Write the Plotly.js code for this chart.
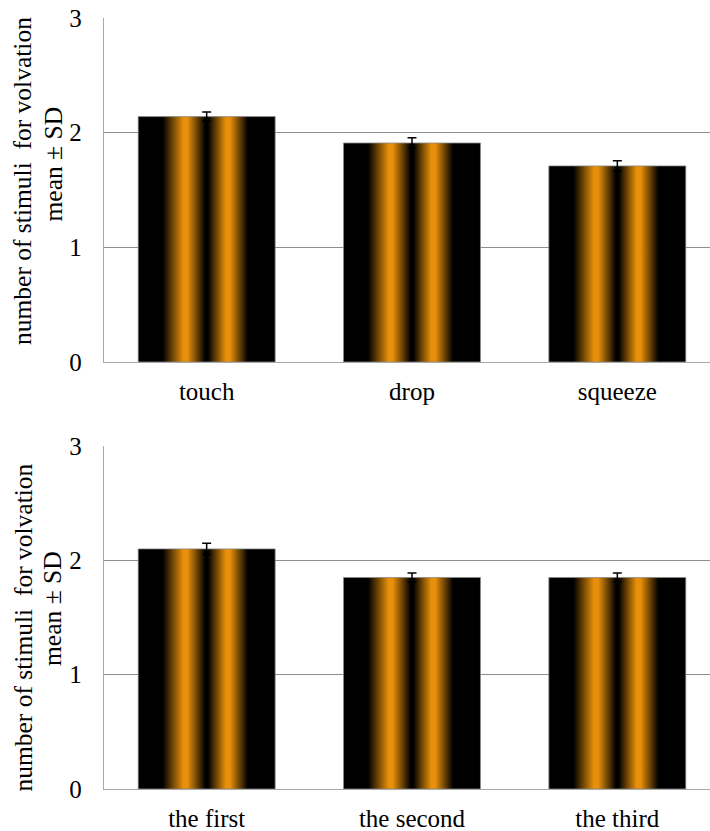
<!DOCTYPE html>
<html>
<head>
<meta charset="utf-8">
<script src="https://cdn.plot.ly/plotly-3.0.1.min.js"></script>
<style>
  html, body { margin: 0; padding: 0; background: #fff; overflow: hidden; }
  #chart { width: 730px; height: 831px; }
</style>
</head>
<body>
<div id="chart"></div>
<script>
// ---- data ----
const catsTop = ['touch', 'drop', 'squeeze'];
const meanTop = [2.14, 1.91, 1.71];
const sdTop = [0.04, 0.045, 0.045];

const catsBottom = ['the first', 'the second', 'the third'];
const meanBottom = [2.10, 1.85, 1.85];
const sdBottom = [0.05, 0.04, 0.04];

const yTicks = [0, 1, 2, 3];
const yTitleLine1 = 'number of stimuli\u00a0 for volvation';
const yTitleLine2 = 'mean \u00b1 SD';

const FONT = 'Liberation Serif, Times New Roman, serif';

function barTrace(x, y, sd, xa, ya) {
  return {
    type: 'bar', x: x, y: y, xaxis: xa, yaxis: ya,
    marker: { color: '#000000', line: { color: '#8a8a8a', width: 0.8 } },
    error_y: { type: 'data', array: sd, visible: true, color: '#000000', thickness: 1.5, width: 4.5 },
    hoverinfo: 'skip', showlegend: false
  };
}

const data = [
  barTrace(catsTop, meanTop, sdTop, 'x', 'y'),
  barTrace(catsBottom, meanBottom, sdBottom, 'x2', 'y2')
];

function yAxis(domain, anchor) {
  return {
    domain: domain, anchor: anchor, range: [0, 3], tickvals: yTicks, ticktext: yTicks.map(String),
    showgrid: true, gridcolor: '#8f8f8f', gridwidth: 1.3, zeroline: false,
    showline: true, linecolor: '#a8a8a8', linewidth: 1.3, ticks: '',
    ticklabelstandoff: 16,
    tickfont: { family: FONT, size: 25, color: '#000' },
    fixedrange: true
  };
}
function xAxis(anchor) {
  return {
    anchor: anchor, showline: true, linecolor: '#a8a8a8', linewidth: 1.3, ticks: '',
    showgrid: false, zeroline: false, ticklabelstandoff: 7,
    tickfont: { family: FONT, size: 25, color: '#000' }, fixedrange: true
  };
}

function titleAnn(text, x, y) {
  return {
    text: text, xref: 'paper', yref: 'paper', x: x, y: y,
    xanchor: 'center', yanchor: 'middle', textangle: -90, showarrow: false,
    font: { family: FONT, size: 25.5, color: '#000' }
  };
}

const layout = {
  width: 730, height: 831,
  margin: { l: 104, r: 10, t: 18, b: 42 },
  paper_bgcolor: '#ffffff', plot_bgcolor: '#ffffff',
  bargap: 0.333,
  font: { family: FONT, color: '#000' },
  xaxis: xAxis('y'),
  yaxis: yAxis([0.5538, 1], 'x'),
  xaxis2: xAxis('y2'),
  yaxis2: yAxis([0, 0.4449], 'x2'),
  annotations: [
    titleAnn(yTitleLine1, -0.1322, 0.788),
    titleAnn(yTitleLine2, -0.0828, 0.8113),
    titleAnn(yTitleLine1, -0.1322, 0.2088),
    titleAnn(yTitleLine2, -0.0828, 0.2348)
  ]
};

Plotly.newPlot('chart', data, layout, { staticPlot: true, displayModeBar: false }).then(function (gd) {
  const svg = gd.querySelector('svg.main-svg');
  const ns = 'http://www.w3.org/2000/svg';
  let defs = svg.querySelector('defs');
  if (!defs) { defs = document.createElementNS(ns, 'defs'); svg.insertBefore(defs, svg.firstChild); }
  const grad = document.createElementNS(ns, 'linearGradient');
  grad.setAttribute('id', 'barStripe');
  grad.setAttribute('x1', '0'); grad.setAttribute('y1', '0');
  grad.setAttribute('x2', '1'); grad.setAttribute('y2', '0');
  const stops = [
    [0, '#000000'], [0.18, '#000000'], [0.33, '#e8900a'], [0.36, '#e8900a'], [0.49, '#000000'],
    [0.51, '#000000'], [0.64, '#e8900a'], [0.67, '#e8900a'], [0.80, '#000000'], [1, '#000000']
  ];
  stops.forEach(function (s) {
    const st = document.createElementNS(ns, 'stop');
    st.setAttribute('offset', s[0]);
    st.setAttribute('stop-color', s[1]);
    grad.appendChild(st);
  });
  defs.appendChild(grad);
  gd.querySelectorAll('.barlayer .point path').forEach(function (p) {
    p.style.fill = 'url(#barStripe)';
  });
});
</script>
</body>
</html>
